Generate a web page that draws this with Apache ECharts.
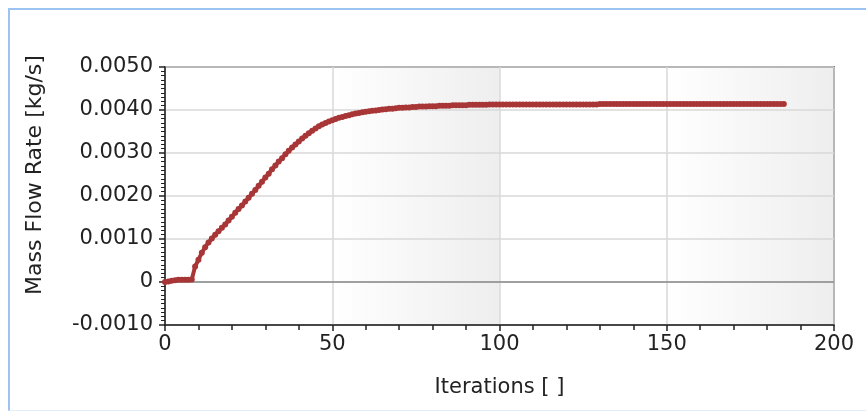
<!DOCTYPE html>
<html>
<head>
<meta charset="utf-8">
<script src="https://cdn.jsdelivr.net/npm/echarts@6/dist/echarts.min.js"></script>
<style>
html,body{margin:0;padding:0;background:#fff;}
#frame{position:absolute;left:8px;top:8px;width:900px;height:400px;border-left:2px solid #9cc4f2;border-top:2px solid #9cc4f2;border-bottom:1px solid #e3eefb;}
#chart{position:absolute;left:0;top:0;width:866px;height:411px;}
</style>
</head>
<body>
<div id="frame"></div>
<div id="chart"></div>
<script>
// Mass flow rate [kg/s] per iteration (iterations 0..185)
const massFlow = [
  0, 0.00001, 0.00003, 0.00004, 0.00005, 0.00005, 0.00005, 0.00005, 0.00006, 0.00036,
  0.00052, 0.00068, 0.00081, 0.00092, 0.00101, 0.00110, 0.00118, 0.00126, 0.00134, 0.00143,
  0.00152, 0.00161, 0.00170, 0.00178, 0.00187, 0.00196, 0.00205, 0.00214, 0.00224, 0.00233,
  0.00243, 0.00252, 0.00262, 0.00271, 0.00280, 0.00288, 0.00297, 0.00305, 0.00313, 0.00320,
  0.00327, 0.00334, 0.00340, 0.00346, 0.00352, 0.00357, 0.00362, 0.00366, 0.00370, 0.00373,
  0.00376, 0.00379, 0.00382, 0.00384, 0.00386, 0.00388, 0.00390, 0.00392, 0.00393, 0.00395,
  0.00396, 0.00397, 0.00398, 0.00399, 0.00400, 0.00401, 0.00402, 0.00403, 0.00403, 0.00404,
  0.00405, 0.00405, 0.00406, 0.00406, 0.00407, 0.00407, 0.00408, 0.00408, 0.00408, 0.00409,
  0.00409, 0.00409, 0.00410, 0.00410, 0.00410, 0.00410, 0.00411, 0.00411, 0.00411, 0.00411,
  0.00411, 0.00412, 0.00412, 0.00412, 0.00412, 0.00412, 0.00412, 0.00413, 0.00413, 0.00413,
  0.00413, 0.00413, 0.00413, 0.00413, 0.00413, 0.00413, 0.00413, 0.00413, 0.00413, 0.00413,
  0.00413, 0.00413, 0.00413, 0.00413, 0.00413, 0.00413, 0.00413, 0.00413, 0.00413, 0.00413,
  0.00413, 0.00413, 0.00413, 0.00413, 0.00413, 0.00413, 0.00413, 0.00413, 0.00413, 0.00413,
  0.00414, 0.00414, 0.00414, 0.00414, 0.00414, 0.00414, 0.00414, 0.00414, 0.00414, 0.00414,
  0.00414, 0.00414, 0.00414, 0.00414, 0.00414, 0.00414, 0.00414, 0.00414, 0.00414, 0.00414,
  0.00414, 0.00414, 0.00414, 0.00414, 0.00414, 0.00414, 0.00414, 0.00414, 0.00414, 0.00414,
  0.00414, 0.00414, 0.00414, 0.00414, 0.00414, 0.00414, 0.00414, 0.00414, 0.00414, 0.00414,
  0.00414, 0.00414, 0.00414, 0.00414, 0.00414, 0.00414, 0.00414, 0.00414, 0.00414, 0.00414,
  0.00414, 0.00414, 0.00414, 0.00414, 0.00414, 0.00414
];
const xTitle = 'Iterations [ ]';
const yTitle = 'Mass Flow Rate [kg/s]';
const shadedBands = [[50, 100], [150, 200]];

const pts = massFlow.map((v, i) => [i, v]);
const FONT = 'DejaVu Sans';
const FS = 21;

const chart = echarts.init(document.getElementById('chart'), null, {renderer: 'canvas'});
const bandGrad = {
  type: 'linear', x: 0, y: 0, x2: 1, y2: 0,
  colorStops: [{offset: 0, color: '#ffffff'}, {offset: 1, color: '#eeeeee'}]
};
chart.setOption({
  animation: false,
  backgroundColor: 'transparent',
  grid: {left: 165, right: 32, top: 67, bottom: 86, show: true, borderColor: '#222', borderWidth: 1.5, backgroundColor: 'transparent', z: 4},
  xAxis: {
    type: 'value', min: 0, max: 200, interval: 50, z: 4,
    name: xTitle, nameLocation: 'middle', nameGap: 52,
    nameTextStyle: {fontFamily: FONT, fontSize: FS, color: '#222'},
    axisLine: {show: true, onZero: false, lineStyle: {color: '#222', width: 1.5}},
    axisTick: {show: true, length: 6, lineStyle: {color: '#222', width: 1.5}},
    minorTick: {show: true, splitNumber: 5, length: 5, lineStyle: {color: '#222', width: 1.5}},
    axisLabel: {fontFamily: FONT, fontSize: FS, color: '#222', margin: 9},
    splitLine: {show: true, lineStyle: {color: '#d9d9d9', width: 1.5}}
  },
  yAxis: {
    type: 'value', min: -0.001, max: 0.005, interval: 0.001, z: 4,
    axisLine: {show: true, onZero: false, lineStyle: {color: '#222', width: 1.5}},
    axisTick: {show: true, length: 6, lineStyle: {color: '#222', width: 1.5}},
    minorTick: {show: true, splitNumber: 10, length: 4, lineStyle: {color: '#222', width: 1}},
    axisLabel: {fontFamily: FONT, fontSize: FS, color: '#222', margin: 12,
      formatter: v => Math.abs(v) < 1e-12 ? '0' : v.toFixed(4)},
    splitLine: {show: true, lineStyle: {color: '#d9d9d9', width: 1.5}}
  },
  graphic: [{
    type: 'text', rotation: Math.PI / 2,
    x: 35, y: 175,
    style: {text: yTitle, font: '22px "' + FONT + '"', fill: '#222', textAlign: 'center', textVerticalAlign: 'middle'}
  }],
  series: [{
    type: 'line',
    data: [],
    z: 1,
    silent: true,
    markArea: {
      silent: true,
      itemStyle: {color: bandGrad},
      data: shadedBands.map(b => [{xAxis: b[0]}, {xAxis: b[1]}])
    },
    markLine: {
      silent: true, symbol: 'none', label: {show: false},
      lineStyle: {color: '#8a8a8a', width: 1.5, type: 'solid'},
      data: [{yAxis: 0}]
    }
  }, {
    type: 'line',
    data: pts,
    symbol: 'circle', symbolSize: 6, showAllSymbol: true,
    lineStyle: {color: '#a83636', width: 4},
    itemStyle: {color: '#a83636'},
    z: 6
  }]
});
</script>
</body>
</html>
